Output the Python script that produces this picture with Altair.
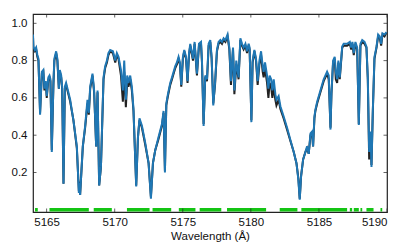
import altair as alt
import pandas as pd

# Model spectrum (blue)
wave = [5164.00, 5164.03, 5164.13, 5164.23, 5164.32, 5164.40, 5164.52, 5164.65, 5164.76, 5164.84,
        5164.94, 5165.01, 5165.13, 5165.21, 5165.28, 5165.38, 5165.50, 5165.57, 5165.70, 5165.79,
        5165.90, 5165.97, 5166.07, 5166.14, 5166.24, 5166.34, 5166.43, 5166.73, 5166.97, 5167.22,
        5167.37, 5167.41, 5167.46, 5167.59, 5167.66, 5167.83, 5168.00, 5168.10, 5168.20, 5168.37,
        5168.49, 5168.64, 5168.74, 5168.86, 5168.99, 5169.18, 5169.30, 5169.43, 5169.54, 5169.67,
        5169.87, 5170.04, 5170.16, 5170.28, 5170.46, 5170.60, 5170.70, 5170.82, 5170.92, 5171.01,
        5171.14, 5171.26, 5171.38, 5171.58, 5171.71, 5171.82, 5172.00, 5172.24, 5172.49, 5172.66,
        5172.81, 5172.98, 5173.22, 5173.47, 5173.59, 5173.69, 5173.79, 5173.91, 5174.08, 5174.21,
        5174.45, 5174.57, 5174.69, 5174.79, 5174.89, 5175.01, 5175.11, 5175.24, 5175.35, 5175.46,
        5175.55, 5175.68, 5175.75, 5175.87, 5176.04, 5176.19, 5176.34, 5176.41, 5176.53, 5176.65,
        5176.78, 5176.90, 5177.02, 5177.12, 5177.24, 5177.37, 5177.51, 5177.63, 5177.76, 5177.88,
        5178.00, 5178.13, 5178.29, 5178.42, 5178.54, 5178.69, 5178.79, 5178.93, 5179.10, 5179.23,
        5179.35, 5179.47, 5179.60, 5179.72, 5179.84, 5179.91, 5180.04, 5180.13, 5180.26, 5180.38,
        5180.50, 5180.63, 5180.75, 5180.87, 5180.94, 5181.04, 5181.19, 5181.29, 5181.38, 5181.49,
        5181.58, 5181.68, 5181.80, 5181.88, 5182.04, 5182.17, 5182.41, 5182.66, 5182.90, 5183.15,
        5183.35, 5183.49, 5183.59, 5183.69, 5183.84, 5184.01, 5184.13, 5184.25, 5184.38, 5184.50,
        5184.57, 5184.67, 5184.74, 5184.87, 5185.11, 5185.35, 5185.60, 5185.72, 5185.85, 5185.92,
        5186.04, 5186.16, 5186.24, 5186.34, 5186.43, 5186.53, 5186.71, 5186.82, 5187.07, 5187.27,
        5187.37, 5187.46, 5187.56, 5187.68, 5187.81, 5187.93, 5188.05, 5188.18, 5188.35, 5188.49,
        5188.59, 5188.69, 5188.79, 5188.86, 5188.96, 5189.08, 5189.23, 5189.35, 5189.47, 5189.57,
        5189.67, 5189.82, 5189.96]

model_flux = [0.94, 0.875, 0.857, 0.87, 0.83, 0.81, 0.51, 0.74, 0.75, 0.65,
              0.69, 0.61, 0.71, 0.72, 0.70, 0.31, 0.68, 0.81, 0.85, 0.81,
              0.65, 0.75, 0.72, 0.66, 0.14, 0.66, 0.68, 0.59, 0.48, 0.34,
              0.09, 0.145, 0.08, 0.25, 0.34, 0.45, 0.59, 0.52, 0.66, 0.73,
              0.64, 0.34, 0.64, 0.13, 0.23, 0.71, 0.77, 0.80, 0.84, 0.857,
              0.85, 0.80, 0.84, 0.82, 0.75, 0.64, 0.80, 0.59, 0.72, 0.68,
              0.72, 0.66, 0.54, 0.125, 0.39, 0.49, 0.45, 0.36, 0.25, 0.06,
              0.25, 0.32, 0.39, 0.46, 0.53, 0.20, 0.57, 0.62, 0.68, 0.71,
              0.77, 0.79, 0.82, 0.79, 0.67, 0.82, 0.857, 0.82, 0.69, 0.84,
              0.89, 0.84, 0.81, 0.90, 0.73, 0.89, 0.90, 0.80, 0.45, 0.72,
              0.70, 0.89, 0.91, 0.82, 0.56, 0.68, 0.857, 0.90, 0.91, 0.90,
              0.92, 0.91, 0.94, 0.87, 0.69, 0.87, 0.64, 0.80, 0.71, 0.92,
              0.89, 0.87, 0.89, 0.85, 0.89, 0.87, 0.47, 0.80, 0.857, 0.81,
              0.69, 0.80, 0.85, 0.77, 0.74, 0.79, 0.72, 0.65, 0.72, 0.70,
              0.64, 0.70, 0.62, 0.59, 0.61, 0.555, 0.50, 0.44, 0.375, 0.31,
              0.25, 0.16, 0.054, 0.18, 0.27, 0.31, 0.34, 0.30, 0.41, 0.42,
              0.34, 0.50, 0.535, 0.58, 0.64, 0.70, 0.74, 0.72, 0.43, 0.625,
              0.80, 0.82, 0.74, 0.70, 0.80, 0.71, 0.875, 0.89, 0.89, 0.90,
              0.87, 0.90, 0.84, 0.90, 0.87, 0.455, 0.89, 0.91, 0.90, 0.875,
              0.71, 0.31, 0.42, 0.23, 0.535, 0.82, 0.875, 0.94, 0.93, 0.89,
              0.946, 0.94, 0.953]

# Observed spectrum (black), mostly hidden under the model
obs_flux = [0.93, 0.86, 0.85, 0.86, 0.82, 0.80, 0.52, 0.73, 0.74, 0.64,
            0.68, 0.60, 0.70, 0.71, 0.69, 0.32, 0.67, 0.80, 0.84, 0.80,
            0.65, 0.74, 0.71, 0.65, 0.14, 0.65, 0.67, 0.58, 0.48, 0.33,
            0.10, 0.15, 0.08, 0.25, 0.34, 0.44, 0.57, 0.51, 0.65, 0.72,
            0.63, 0.34, 0.63, 0.13, 0.23, 0.70, 0.76, 0.79, 0.83, 0.85,
            0.84, 0.79, 0.83, 0.81, 0.72, 0.58, 0.74, 0.55, 0.69, 0.66,
            0.70, 0.64, 0.53, 0.13, 0.39, 0.48, 0.44, 0.35, 0.25, 0.07,
            0.25, 0.32, 0.38, 0.45, 0.52, 0.21, 0.56, 0.61, 0.67, 0.70,
            0.76, 0.78, 0.81, 0.78, 0.66, 0.81, 0.85, 0.81, 0.68, 0.83,
            0.88, 0.83, 0.80, 0.89, 0.72, 0.88, 0.89, 0.79, 0.46, 0.71,
            0.69, 0.88, 0.90, 0.81, 0.57, 0.67, 0.85, 0.89, 0.90, 0.89,
            0.91, 0.90, 0.93, 0.86, 0.67, 0.86, 0.62, 0.78, 0.70, 0.91,
            0.88, 0.86, 0.88, 0.84, 0.88, 0.86, 0.48, 0.79, 0.85, 0.80,
            0.67, 0.78, 0.83, 0.74, 0.71, 0.76, 0.68, 0.60, 0.68, 0.66,
            0.60, 0.66, 0.59, 0.56, 0.59, 0.54, 0.49, 0.43, 0.37, 0.31,
            0.25, 0.17, 0.06, 0.18, 0.27, 0.31, 0.33, 0.30, 0.40, 0.41,
            0.34, 0.49, 0.53, 0.57, 0.63, 0.69, 0.73, 0.70, 0.44, 0.62,
            0.79, 0.81, 0.70, 0.68, 0.79, 0.70, 0.87, 0.88, 0.88, 0.89,
            0.86, 0.89, 0.83, 0.89, 0.86, 0.46, 0.88, 0.90, 0.89, 0.87,
            0.70, 0.27, 0.40, 0.24, 0.53, 0.81, 0.87, 0.93, 0.92, 0.88,
            0.94, 0.93, 0.95]

# Mask (green) regions
mask_start = [5164.15, 5165.21, 5168.46, 5170.90, 5172.78, 5174.71, 5176.24, 5178.25,
              5182.12, 5183.71, 5187.27, 5187.56, 5188.05, 5188.49, 5189.52]
mask_end = [5164.35, 5168.10, 5169.79, 5172.56, 5174.15, 5175.93, 5177.83, 5181.12,
            5183.42, 5187.07, 5187.44, 5187.93, 5188.18, 5189.01, 5189.65]

x_ticks = [5165, 5170, 5175, 5180, 5185, 5190]
y_ticks = [0.2, 0.4, 0.6, 0.8, 1.0]

W, H = 354, 198
FONT = "Liberation Sans"

spec = pd.DataFrame({"wave": wave, "model": model_flux, "obs": obs_flux})
mask = pd.DataFrame({"x1": mask_start, "x2": mask_end, "y": [0.0] * len(mask_start)})
xt = pd.DataFrame({"t": x_ticks})
yt = pd.DataFrame({"t": y_ticks})

xscale = alt.Scale(domain=[5164, 5190], nice=False, zero=False)
yscale = alt.Scale(domain=[-0.012, 1.05], nice=False, zero=False)

xaxis = alt.Axis(values=x_ticks, format="d", title="Wavelength (Å)", ticks=False, domain=False,
                 grid=False, labelPadding=4, titlePadding=3, labelFontSize=11.5, titleFontSize=11.5,
                 titleFontWeight="normal", labelFont=FONT, titleFont=FONT,
                 labelColor="#111", titleColor="#111")
yaxis = alt.Axis(values=y_ticks, format=".1f", title=None, ticks=False, domain=False, grid=False,
                 labelPadding=6, labelFontSize=11.5, labelFont=FONT, labelColor="#111")

obs_line = alt.Chart(spec).mark_line(color="#222222", strokeWidth=2, clip=True).encode(
    x=alt.X("wave:Q", scale=xscale, axis=xaxis),
    y=alt.Y("obs:Q", scale=yscale, axis=yaxis),
)
model_line = alt.Chart(spec).mark_line(color="#1f77b4", strokeWidth=2, clip=True).encode(
    x=alt.X("wave:Q", scale=xscale),
    y=alt.Y("model:Q", scale=yscale),
)
mask_rules = alt.Chart(mask).mark_rule(color="#14c414", strokeWidth=3.5, strokeCap="butt", clip=True).encode(
    x=alt.X("x1:Q", scale=xscale),
    x2="x2:Q",
    y=alt.Y("y:Q", scale=yscale),
)

tick_style = dict(color="#222222", clip=True, thickness=1, size=7)
xt_bottom = alt.Chart(xt).mark_tick(orient="vertical", **tick_style).encode(
    x=alt.X("t:Q", scale=xscale), y=alt.value(H))
xt_top = alt.Chart(xt).mark_tick(orient="vertical", **tick_style).encode(
    x=alt.X("t:Q", scale=xscale), y=alt.value(0))
yt_left = alt.Chart(yt).mark_tick(orient="horizontal", **tick_style).encode(
    y=alt.Y("t:Q", scale=yscale), x=alt.value(0))
yt_right = alt.Chart(yt).mark_tick(orient="horizontal", **tick_style).encode(
    y=alt.Y("t:Q", scale=yscale), x=alt.value(W))

chart = alt.layer(
    obs_line, model_line, mask_rules, xt_bottom, xt_top, yt_left, yt_right
).properties(
    width=W, height=H,
    autosize=alt.AutoSizeParams(type="none"),
    padding={"left": 25, "top": 6, "right": 20, "bottom": 40},
).configure(
    background="white",
    view=alt.ViewConfig(stroke="#222222", strokeWidth=1.2),
)

chart.save("out.html", embed_options={"renderer": "svg", "actions": False})
